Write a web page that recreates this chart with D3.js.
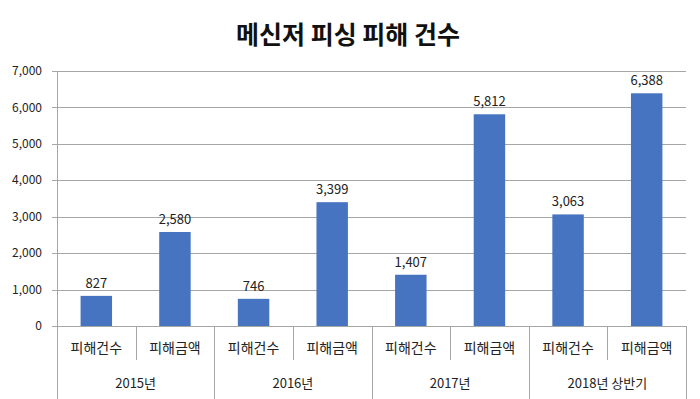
<!DOCTYPE html>
<html>
<head>
<meta charset="utf-8">
<script src="https://cdn.jsdelivr.net/npm/d3@7"></script>
<style>
  body { margin: 0; background: #fff; }
  text { font-family: "Noto Sans CJK KR", "Noto Sans", sans-serif; fill: #222; }
</style>
</head>
<body>
<div id="chart"></div>
<script>
// chart data
var years = ['2015년', '2016년', '2017년', '2018년 상반기'];
var subCats = ['피해건수', '피해금액'];
var values = [827, 2580, 746, 3399, 1407, 5812, 3063, 6388];
var yTicks = [0, 1000, 2000, 3000, 4000, 5000, 6000, 7000];

var width = 700, height = 399;
var margin = {top: 71, right: 14, bottom: 73, left: 57};

var svg = d3.select('#chart').append('svg')
    .attr('width', width)
    .attr('height', height);

// title
svg.append('text')
    .attr('x', 348)
    .attr('y', 44)
    .attr('text-anchor', 'middle')
    .attr('font-size', '25px')
    .attr('font-weight', 'bold')
    .style('fill', '#111')
    .text('메신저 피싱 피해 건수');

var rows = [];
years.forEach(function (y, i) {
    subCats.forEach(function (s, j) {
        rows.push({key: i + '-' + j, year: y, sub: s, value: values[i * 2 + j]});
    });
});

var x = d3.scaleBand()
    .domain(rows.map(function (d) { return d.key; }))
    .range([margin.left, width - margin.right])
    .paddingInner(0).paddingOuter(0);

var y = d3.scaleLinear()
    .domain([0, 7000])
    .range([height - margin.bottom, margin.top]);

var bottom = height - margin.bottom;

// gridlines
svg.append('g')
    .selectAll('line')
    .data(yTicks)
    .enter().append('line')
    .attr('x1', margin.left - 5)
    .attr('x2', width - margin.right)
    .attr('y1', function (d) { return Math.round(y(d)) + 0.5; })
    .attr('y2', function (d) { return Math.round(y(d)) + 0.5; })
    .attr('stroke', '#a6a6a6')
    .attr('stroke-width', 1);

// y tick labels
svg.append('g')
    .selectAll('text')
    .data(yTicks)
    .enter().append('text')
    .attr('x', 42)
    .attr('y', function (d) { return y(d); })
    .attr('dy', '0.35em')
    .attr('text-anchor', 'end')
    .attr('font-size', '12px')
    .text(function (d) { return d3.format(',')(d); });

// y axis line
svg.append('line')
    .attr('x1', margin.left + 0.5).attr('x2', margin.left + 0.5)
    .attr('y1', margin.top).attr('y2', height)
    .attr('stroke', '#a6a6a6');

// bars
var bw = x.bandwidth() * 0.4;
svg.append('g')
    .selectAll('rect')
    .data(rows)
    .enter().append('rect')
    .attr('x', function (d) { return x(d.key) + (x.bandwidth() - bw) / 2; })
    .attr('width', bw)
    .attr('y', function (d) { return y(d.value); })
    .attr('height', function (d) { return bottom - y(d.value); })
    .attr('fill', '#4674c1');

// value labels
svg.append('g')
    .selectAll('text')
    .data(rows)
    .enter().append('text')
    .attr('x', function (d) { return x(d.key) + x.bandwidth() / 2; })
    .attr('y', function (d) { return y(d.value) - 8; })
    .attr('text-anchor', 'middle')
    .attr('font-size', '13px')
    .text(function (d) { return d3.format(',')(d.value); });

// category separators
svg.append('g')
    .selectAll('line')
    .data(rows.slice(1).concat([null]))
    .enter().append('line')
    .attr('x1', function (d, i) { return Math.round(x.range()[0] + x.bandwidth() * (i + 1)) + 0.5; })
    .attr('x2', function (d, i) { return Math.round(x.range()[0] + x.bandwidth() * (i + 1)) + 0.5; })
    .attr('y1', bottom)
    .attr('y2', function (d, i) { return (i % 2 === 0) ? bottom + 34 : height; })
    .attr('stroke', '#a6a6a6');

// sub category labels
svg.append('g')
    .selectAll('text')
    .data(rows)
    .enter().append('text')
    .attr('x', function (d) { return x(d.key) + x.bandwidth() / 2; })
    .attr('y', bottom + 22)
    .attr('dy', '0.35em')
    .attr('text-anchor', 'middle')
    .attr('font-size', '14px')
    .text(function (d) { return d.sub; });

// year labels
svg.append('g')
    .selectAll('text')
    .data(years)
    .enter().append('text')
    .attr('x', function (d, i) { return x(i + '-0') + x.bandwidth(); })
    .attr('y', bottom + 57)
    .attr('dy', '0.35em')
    .attr('text-anchor', 'middle')
    .attr('font-size', '13px')
    .text(function (d) { return d; });
</script>
</body>
</html>
